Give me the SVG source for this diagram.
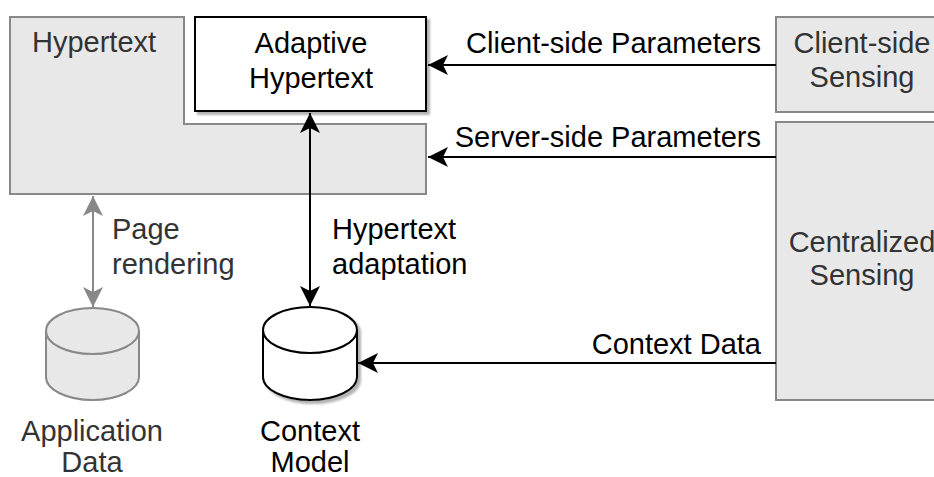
<svg xmlns="http://www.w3.org/2000/svg" width="934" height="477" viewBox="0 0 934 477">
  <style>
    text { font-family: "Liberation Sans", Arial, sans-serif; font-size: 29px; }
    .grey { fill: #e8e8e8; stroke: #888888; stroke-width: 2; }
    .dark { fill: #333333; }
    .ink { fill: #000000; }
    .mid { text-anchor: middle; }
    .end { text-anchor: end; }
    .wire { fill: none; stroke: #000000; stroke-width: 2; }
    .wire-grey { fill: none; stroke: #888888; stroke-width: 2; }
  </style>
  <defs>
    <filter id="shadow" x="-10%" y="-10%" width="130%" height="130%">
      <feDropShadow dx="3" dy="3" stdDeviation="1" flood-color="#808080" flood-opacity="0.6"/>
    </filter>
    <marker id="arrow" viewBox="0 0 20 20" refX="20" refY="10" markerWidth="20" markerHeight="20" markerUnits="userSpaceOnUse" orient="auto-start-reverse">
      <path d="M0,0 L20,10 L0,20 L5,10 Z" fill="#000000"/>
    </marker>
    <marker id="arrow-grey" viewBox="0 0 20 20" refX="20" refY="10" markerWidth="20" markerHeight="20" markerUnits="userSpaceOnUse" orient="auto-start-reverse">
      <path d="M0,0 L20,10 L0,20 L5,10 Z" fill="#888888"/>
    </marker>
  </defs>

  <!-- Hypertext (L-shaped container) -->
  <g id="hypertext">
    <path class="grey" d="M10,17 H184 V124 H426 V194 H10 Z"/>
    <text class="dark" x="32" y="52">Hypertext</text>
  </g>

  <!-- Adaptive Hypertext -->
  <g id="adaptive-hypertext">
    <rect x="195" y="17" width="231" height="94" fill="#ffffff" stroke="#000000" stroke-width="2" filter="url(#shadow)"/>
    <text class="ink mid" x="311" y="53">Adaptive</text>
    <text class="ink mid" x="311" y="88">Hypertext</text>
  </g>

  <!-- Client-side Sensing -->
  <g id="client-side-sensing">
    <rect class="grey" x="776" y="17" width="175" height="95"/>
    <text class="dark mid" x="862" y="53">Client-side</text>
    <text class="dark mid" x="862" y="87">Sensing</text>
  </g>

  <!-- Centralized Sensing -->
  <g id="centralized-sensing">
    <rect class="grey" x="776" y="122" width="175" height="278"/>
    <text class="dark mid" x="862" y="252">Centralized</text>
    <text class="dark mid" x="862" y="285">Sensing</text>
  </g>

  <!-- Application Data store -->
  <g id="application-data">
    <path class="grey" d="M46,331 A46.5,23 0 0 1 139,331 V377 A46.5,23 0 0 1 46,377 Z"/>
    <path fill="none" stroke="#888888" stroke-width="2" d="M46,331 A46.5,23 0 0 0 139,331"/>
    <text class="dark mid" x="92" y="441">Application</text>
    <text class="dark mid" x="92" y="472">Data</text>
  </g>

  <!-- Context Model store -->
  <g id="context-model">
    <path fill="#ffffff" stroke="#000000" stroke-width="2" filter="url(#shadow)" d="M263,330 A47,23 0 0 1 357,330 V377 A47,23 0 0 1 263,377 Z"/>
    <path fill="none" stroke="#000000" stroke-width="2" d="M263,330 A47,23 0 0 0 357,330"/>
    <text class="ink mid" x="310" y="441">Context</text>
    <text class="ink mid" x="310" y="472">Model</text>
  </g>

  <!-- Connectors -->
  <g id="connectors">
    <path class="wire" d="M776,65 H428" marker-end="url(#arrow)"/>
    <text class="ink end" x="761" y="53">Client-side Parameters</text>

    <path class="wire" d="M776,157 H428" marker-end="url(#arrow)"/>
    <text class="ink end" x="761" y="147">Server-side Parameters</text>

    <path class="wire" d="M776,363 H358" marker-end="url(#arrow)"/>
    <text class="ink end" x="761" y="354">Context Data</text>

    <path class="wire" d="M310,113 V306" marker-start="url(#arrow)" marker-end="url(#arrow)"/>
    <text class="ink" x="332" y="239">Hypertext</text>
    <text class="ink" x="332" y="274">adaptation</text>

    <path class="wire-grey" d="M93,196 V307" marker-start="url(#arrow-grey)" marker-end="url(#arrow-grey)"/>
    <text class="dark" x="112" y="239">Page</text>
    <text class="dark" x="112" y="274">rendering</text>
  </g>
</svg>
